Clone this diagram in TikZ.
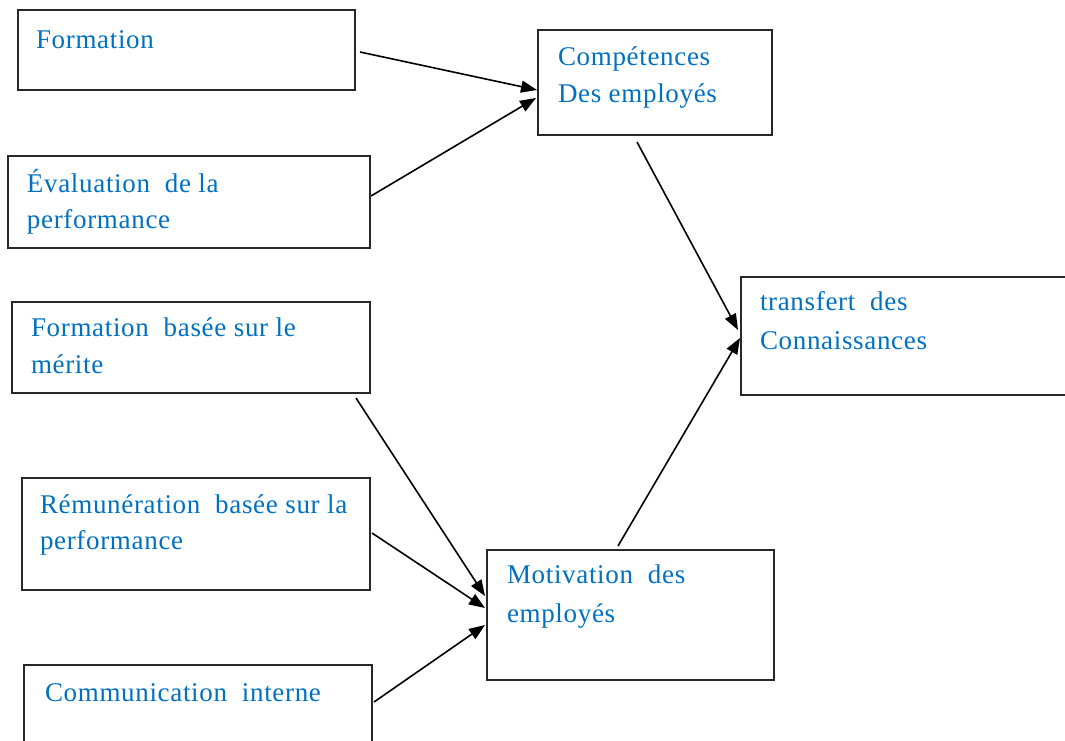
\documentclass[tikz,border=0pt]{standalone}
\usepackage{fontspec}
\setmainfont{Liberation Serif}[LetterSpace=2.5]
\usetikzlibrary{arrows.meta}
\definecolor{txtblue}{RGB}{0,112,192}
\definecolor{boxline}{RGB}{40,40,40}
\tikzset{
  box/.style={draw=boxline, line width=1.6pt, rectangle, inner sep=0pt, outer sep=0pt},
  lbl/.style={anchor=base west, inner sep=0pt, outer sep=0pt, text=txtblue, font=\fontsize{27}{31}\selectfont},
  conn/.style={draw=black, line width=1.6pt, -{Triangle[length=16pt,width=12pt]}}
}
\begin{document}
\begin{tikzpicture}[x=1pt,y=-1pt]
\useasboundingbox (0,0) rectangle (1065,740);
\clip (0,0) rectangle (1065,740);
% boxes
\node[box, minimum width=337pt, minimum height=80pt] (f1) at (186.5,50) {};
\node[box, minimum width=362pt, minimum height=92pt] (f2) at (189,202) {};
\node[box, minimum width=358pt, minimum height=91pt] (f3) at (191,347.5) {};
\node[box, minimum width=348pt, minimum height=112pt] (f4) at (196,534) {};
\node[box, minimum width=348pt, minimum height=95pt] (f5) at (198,712.5) {};
\node[box, minimum width=234pt, minimum height=105pt] (comp) at (655,82.5) {};
\node[box, minimum width=339pt, minimum height=118pt] (tr) at (910.5,336) {};
\node[box, minimum width=287pt, minimum height=130pt] (mot) at (630.5,615) {};
% texts
\node[lbl] (t1) at ([shift={(18,38)}]f1.north west) {Formation};
\node[lbl] (t2a) at ([shift={(19,36)}]f2.north west) {Évaluation\ \ de la};
\node[lbl] (t2b) at ([shift={(19,72)}]f2.north west) {performance};
\node[lbl] (t3a) at ([shift={(19,34)}]f3.north west) {Formation\ \ basée sur le};
\node[lbl] (t3b) at ([shift={(19,71)}]f3.north west) {mérite};
\node[lbl] (t4a) at ([shift={(18,35)}]f4.north west) {Rémunération\ \ basée sur la};
\node[lbl] (t4b) at ([shift={(18,71)}]f4.north west) {performance};
\node[lbl] (t5) at ([shift={(21,36)}]f5.north west) {Communication\ \ interne};
\node[lbl] (tc1) at ([shift={(20,35)}]comp.north west) {Compétences};
\node[lbl] (tc2) at ([shift={(20,72)}]comp.north west) {Des employés};
\node[lbl] (tt1) at ([shift={(19,33)}]tr.north west) {transfert\ \ des};
\node[lbl] (tt2) at ([shift={(19,72)}]tr.north west) {Connaissances};
\node[lbl] (tm1) at ([shift={(20,33)}]mot.north west) {Motivation\ \ des};
\node[lbl] (tm2) at ([shift={(20,72)}]mot.north west) {employés};
% connectors
\draw[conn] ([shift={(5,2)}]f1.east) -- ([shift={(-1,7.5)}]comp.west);
\draw[conn] ([shift={(1,-6)}]f2.east) -- ([shift={(-2,15.5)}]comp.west);
\draw[conn] ([shift={(-18,7)}]comp.south) -- ([shift={(-3,-6)}]tr.west);
\draw[conn] ([shift={(-12.5,-4)}]mot.north) -- ([shift={(-1,2)}]tr.west);
\draw[conn] ([shift={(-14,5)}]f3.south east) -- ([shift={(-2,-19)}]mot.west);
\draw[conn] ([shift={(2,-1)}]f4.east) -- ([shift={(-2,-7)}]mot.west);
\draw[conn] ([shift={(2,-10.5)}]f5.east) -- ([shift={(-2,10)}]mot.west);
\end{tikzpicture}
\end{document}
